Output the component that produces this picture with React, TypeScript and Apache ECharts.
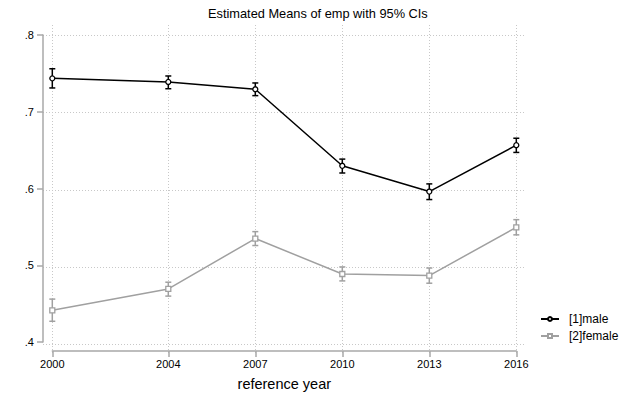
import React, { useEffect, useRef } from "react";
import * as echarts from "echarts";

const years = [2000, 2004, 2007, 2010, 2013, 2016];
const maleMean = [0.7435, 0.7388, 0.7293, 0.6296, 0.596, 0.6564];
const maleLo = [0.731, 0.73, 0.721, 0.6202, 0.5856, 0.647];
const maleHi = [0.756, 0.7466, 0.7375, 0.6383, 0.606, 0.6655];
const femaleMean = [0.4413, 0.4692, 0.5348, 0.4886, 0.4865, 0.5494];
const femaleLo = [0.427, 0.4598, 0.5257, 0.4796, 0.4766, 0.5396];
const femaleHi = [0.4559, 0.4779, 0.5438, 0.4978, 0.4964, 0.5594];
const yTicks = [0.4, 0.5, 0.6, 0.7, 0.8];

const seriesNames = ["[1]male", "[2]female"];
const titleText = "Estimated Means of emp with 95% CIs";
const xTitle = "reference year";

const FONT = "'Liberation Sans', Arial, Helvetica, sans-serif";
const MALE = "#000000";
const FEMALE = "#a0a0a0";
const AXIS = "#a8a8a8";

function errorBarRenderer(color: string) {
  return (params: any, api: any) => {
    const x = api.value(0);
    const lo = api.value(1);
    const hi = api.value(2);
    const pTop = api.coord([x, hi]);
    const pBot = api.coord([x, lo]);
    const w = 3;
    const style = { stroke: color, lineWidth: 1.5 };
    return {
      type: "group",
      children: [
        { type: "line", shape: { x1: pTop[0], y1: pTop[1], x2: pBot[0], y2: pBot[1] }, style },
        { type: "line", shape: { x1: pTop[0] - w, y1: pTop[1], x2: pTop[0] + w, y2: pTop[1] }, style },
        { type: "line", shape: { x1: pBot[0] - w, y1: pBot[1], x2: pBot[0] + w, y2: pBot[1] }, style },
      ],
    };
  };
}

export default function App() {
  const ref = useRef<HTMLDivElement>(null);

  useEffect(() => {
    if (!ref.current) return;
    const chart = echarts.init(ref.current, undefined, { renderer: "svg" });

    const gridData = [
      ...years.map((y) => [0, y]),
      ...yTicks.map((v) => [1, v]),
    ];

    const option: any = {
      animation: false,
      backgroundColor: "#ffffff",
      textStyle: { fontFamily: FONT },
      title: {
        text: titleText,
        left: 208,
        top: 7,
        padding: 0,
        textStyle: { fontFamily: FONT, fontSize: 12.8, fontWeight: "normal", color: "#000" },
      },
      legend: {
        orient: "vertical",
        left: 535,
        top: 308,
        itemWidth: 18,
        itemHeight: 5,
        itemGap: 5,
        data: seriesNames,
        textStyle: { fontFamily: FONT, fontSize: 12, color: "#000", padding: [0, 0, 0, 5] },
      },
      grid: [
        { left: 43, right: 104, top: 25, bottom: 43 },
        { left: 52.3, right: 112.7, top: 35, bottom: 51.7 },
      ],
      xAxis: [
        { type: "value", gridIndex: 0, min: 1999.68, max: 2016.3, show: false },
        {
          type: "value",
          gridIndex: 1,
          min: 2000,
          max: 2016,
          position: "bottom",
          offset: 9,
          name: xTitle,
          nameLocation: "middle",
          nameGap: 25,
          nameTextStyle: { fontFamily: FONT, fontSize: 14.5, color: "#000" },
          axisLine: { show: true, lineStyle: { color: AXIS, width: 1.5 } },
          axisTick: { show: true, length: 6, customValues: years, lineStyle: { color: AXIS, width: 1.5 } },
          axisLabel: {
            customValues: years,
            margin: 7,
            fontFamily: FONT,
            fontSize: 11,
            color: "#000",
            formatter: (v: number) => String(Math.round(v)),
          },
          splitLine: { show: false },
        },
      ],
      yAxis: [
        { type: "value", gridIndex: 0, min: 0.3887, max: 0.8129, show: false },
        {
          type: "value",
          gridIndex: 1,
          min: 0.4,
          max: 0.8,
          interval: 0.1,
          position: "left",
          offset: 9.3,
          axisLine: { show: true, lineStyle: { color: AXIS, width: 1.5 } },
          axisTick: { show: true, length: 6, lineStyle: { color: AXIS, width: 1.5 } },
          axisLabel: {
            margin: 9,
            fontFamily: FONT,
            fontSize: 11,
            color: "#000",
            formatter: (v: number) => v.toFixed(1).replace(/^0/, ""),
          },
          splitLine: { show: false },
        },
      ],
      series: [
        {
          type: "custom",
          name: "grid",
          xAxisIndex: 0,
          yAxisIndex: 0,
          silent: true,
          z: 0,
          data: gridData,
          renderItem: (params: any, api: any) => {
            const cs = params.coordSys;
            const kind = api.value(0);
            const v = api.value(1);
            let shape;
            if (kind === 0) {
              const x = Math.round(api.coord([v, 0.6])[0]) + 0.5;
              shape = { x1: x, y1: cs.y, x2: x, y2: cs.y + cs.height };
            } else {
              const y = Math.round(api.coord([2008, v])[1]) + 0.5;
              shape = { x1: cs.x, y1: y, x2: cs.x + cs.width, y2: y };
            }
            return {
              type: "line",
              shape,
              style: { stroke: "#c8c8c8", lineWidth: 1, lineDash: [1, 2] },
            };
          },
        },
        {
          type: "custom",
          name: "male CI",
          xAxisIndex: 1,
          yAxisIndex: 1,
          silent: true,
          z: 3,
          data: years.map((y, i) => [y, maleLo[i], maleHi[i]]),
          renderItem: errorBarRenderer(MALE),
        },
        {
          type: "custom",
          name: "female CI",
          xAxisIndex: 1,
          yAxisIndex: 1,
          silent: true,
          z: 3,
          data: years.map((y, i) => [y, femaleLo[i], femaleHi[i]]),
          renderItem: errorBarRenderer(FEMALE),
        },
        {
          type: "line",
          name: seriesNames[0],
          xAxisIndex: 1,
          yAxisIndex: 1,
          z: 4,
          data: years.map((y, i) => [y, maleMean[i]]),
          symbol: "circle",
          symbolSize: 5,
          showAllSymbol: true,
          lineStyle: { color: MALE, width: 1.5 },
          itemStyle: { color: "#ffffff", borderColor: MALE, borderWidth: 1.3 },
        },
        {
          type: "line",
          name: seriesNames[1],
          xAxisIndex: 1,
          yAxisIndex: 1,
          z: 4,
          data: years.map((y, i) => [y, femaleMean[i]]),
          symbol: "rect",
          symbolSize: 5,
          showAllSymbol: true,
          lineStyle: { color: FEMALE, width: 1.5 },
          itemStyle: { color: "#ffffff", borderColor: FEMALE, borderWidth: 1.3 },
        },
      ],
    };

    chart.setOption(option);
    return () => chart.dispose();
  }, []);

  return (
    <div
      ref={ref}
      style={{ position: "fixed", left: 0, top: 0, width: 629, height: 396, background: "#fff" }}
    />
  );
}
